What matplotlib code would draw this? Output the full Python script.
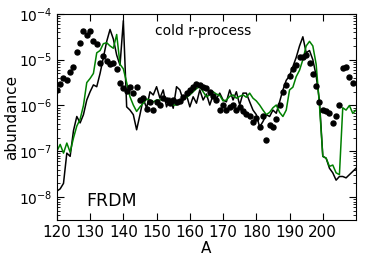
import numpy as np
import matplotlib
matplotlib.use("Agg")
import matplotlib.pyplot as plt

# mass numbers
mass_a = np.arange(120, 211)

# log10 abundances
solar_log = [
    -5.66, -5.52, -5.41, -5.45, -5.27, -5.16, -4.84, -4.63, -4.38, -4.47,
    -4.37, -4.59, -4.66, -5.07, -4.92, -5.02, -5.10, -5.08, -5.20, -5.50,
    -5.62, -5.68, -5.60, -5.73, -5.59, -5.88, -5.84, -6.08, -5.92, -6.10,
    -5.92, -5.99, -5.84, -5.88, -5.95, -5.88, -5.92, -5.90, -5.81, -5.73,
    -5.66, -5.60, -5.52, -5.55, -5.59, -5.62, -5.70, -5.80, -5.88, -6.10,
    -5.99, -6.10, -6.03, -5.99, -6.10, -6.03, -6.13, -6.18, -6.23, -6.35,
    -6.28, -6.46, -6.23, -6.75, -6.42, -6.46, -6.30, -6.00, -5.70, -5.55,
    -5.36, -5.20, -5.12, -4.94, -4.94, -4.90, -5.07, -5.32, -5.58, -5.92,
    -6.10, -6.13, -6.16, -6.39, -6.24, -5.99, -5.19, -5.16, -5.37, -5.50,
]

model_black_log = [
    -7.87, -7.82, -7.70, -7.04, -7.11, -6.55, -6.24, -6.38, -6.20, -5.88,
    -5.70, -5.55, -5.59, -5.30, -4.95, -4.60, -4.34, -4.55, -4.90, -5.12,
    -4.15, -6.03, -6.10, -6.20, -6.53, -6.20, -5.85, -6.06, -5.70, -5.77,
    -5.59, -5.84, -5.66, -6.03, -5.84, -6.06, -5.59, -5.66, -5.88, -5.77,
    -6.03, -5.81, -5.95, -5.66, -5.88, -5.75, -5.99, -5.77, -5.85, -5.73,
    -5.88, -5.92, -5.66, -5.88, -5.70, -5.99, -5.73, -5.73, -5.92, -6.10,
    -6.20, -6.47, -6.35, -6.20, -6.24, -6.10, -6.17, -5.92, -5.66, -5.45,
    -5.35, -5.15, -4.95, -4.70, -4.50, -4.85, -4.80, -5.00, -5.35, -5.90,
    -7.11, -7.15, -7.37, -7.47, -7.63, -7.55, -7.55, -7.58, -7.51, -7.44,
    -7.37,
]

model_green_log = [
    -7.00, -6.85, -7.04, -6.82, -7.02, -6.71, -6.45, -6.30, -6.00, -5.50,
    -5.41, -5.30, -4.85, -4.80, -4.65, -4.63, -4.70, -4.75, -4.45, -5.10,
    -5.20, -5.50, -5.81, -5.99, -6.13, -6.03, -5.95, -5.86, -5.88, -5.92,
    -5.88, -5.88, -5.87, -5.88, -5.93, -5.99, -5.99, -5.95, -5.87, -5.82,
    -5.77, -5.70, -5.63, -5.59, -5.70, -5.81, -5.77, -5.70, -5.75, -5.78,
    -5.90, -5.88, -5.80, -5.77, -5.84, -5.80, -5.77, -5.82, -5.73, -5.84,
    -5.90, -5.99, -6.10, -6.20, -6.15, -6.05, -5.99, -6.15, -6.24, -6.10,
    -5.66, -5.60, -5.37, -5.23, -5.00, -4.70, -4.60, -4.70, -5.10, -6.00,
    -7.11, -7.15, -7.33, -7.30, -7.47, -7.51, -6.05, -6.10, -6.00, -6.17,
    -6.10,
]

fig = plt.figure(figsize=(3.74, 2.67), dpi=100)
ax = fig.add_axes([0.152, 0.176, 0.80, 0.772])

ax.plot(mass_a, 10.0 ** np.array(model_black_log), color="black", lw=1.1)
ax.plot(mass_a, 10.0 ** np.array(model_green_log), color="green", lw=1.1)
ax.plot(mass_a[:len(solar_log)], 10.0 ** np.array(solar_log), "o", color="black",
        ms=3.6, mec="black")

ax.set_yscale("log")
ax.set_xlim(120, 210)
ax.set_ylim(10 ** -8.5, 1e-4)
ax.set_xticks(np.arange(120, 210, 10))
ax.tick_params(which="both", direction="in", top=True, right=True)
ax.tick_params(axis="x", labelsize=11)
ax.tick_params(axis="y", labelsize=10, pad=3)
ax.tick_params(which="major", length=5)
ax.tick_params(which="minor", length=2.5)
ax.set_xlabel("A", fontsize=11, labelpad=1)
ax.set_ylabel("abundance", fontsize=11, labelpad=0)

ax.text(0.488, 0.917, "cold r-process", transform=ax.transAxes, ha="center",
        va="center", fontsize=10)
ax.text(0.184, 0.092, "FRDM", transform=ax.transAxes, ha="center",
        va="center", fontsize=12.5)

fig.savefig("out.png", dpi=100)
